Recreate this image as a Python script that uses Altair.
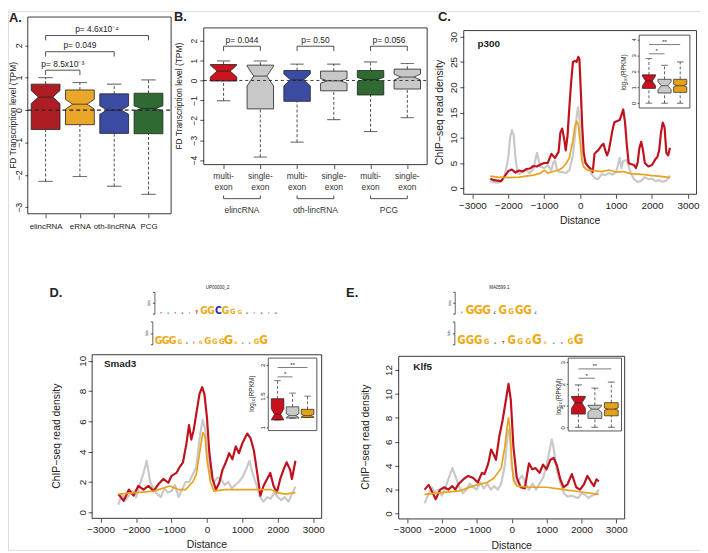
import altair as alt
import pandas as pd

W, H, OFF = 700, 545, 8
FONT = "Liberation Sans"
NARROW = "DejaVu Sans Condensed, Liberation Sans Narrow, Liberation Sans"
INK = "#222222"
GRAY = "#C8C8C8"

# ---------------- Panel A ----------------
A_categories = ["elincRNA", "eRNA", "oth-lincRNA", "PCG"]
A_whisker_hi = [1.0, 0.85, 0.8, 0.93]
A_q3 = [0.8, 0.62, 0.5, 0.52]
A_median = [0.4, 0.18, 0.0, 0.05]
A_q1 = [-0.6, -0.45, -0.72, -0.73]
A_whisker_lo = [-2.2, -2.05, -2.35, -2.6]
A_notch = [0.2, 0.15, 0.13, 0.08]
A_colors = ["#AD1E24", "#E9A628", "#3B4BA1", "#2E6A31"]
A_pairs = [[1, 2], [1, 3], [1, 4]]
A_bracket_y = [1.23, 1.8, 2.3]
A_pvalues = ["p= 8.5x10\u207b\u00b3", "p= 0.049", "p= 4.6x10\u207b\u2074"]
A_yticks = [-3, -2, -1, 0, 1, 2]

# ---------------- Panel B ----------------
B_tick_labels = ["multi-\nexon", "single-\nexon"] * 3
B_groups = ["elincRNA", "oth-lincRNA", "PCG"]
B_whisker_hi = [0.98, 0.98, 0.82, 0.82, 0.93, 0.85]
B_q3 = [0.8, 0.77, 0.5, 0.47, 0.5, 0.57]
B_median = [0.47, 0.22, 0.03, -0.02, 0.05, 0.17]
B_q1 = [-0.03, -1.43, -1.05, -0.52, -0.73, -0.43]
B_whisker_lo = [-1.02, -3.85, -3.1, -1.97, -2.57, -1.87]
B_notch = [0.3, 0.5, 0.3, 0.12, 0.1, 0.15]
B_colors = ["#C8141F", GRAY, "#3B4BA1", GRAY, "#2E6A31", GRAY]
B_pairs = [[1, 2], [3, 4], [5, 6]]
B_bracket_y = [1.72, 1.72, 1.72]
B_pvalues = ["p= 0.044", "p= 0.50", "p= 0.056"]
B_yticks = [-4, -3, -2, -1, 0, 1, 2]

# ---------------- Line panels ----------------
DIST_TICKS = [-3000, -2000, -1000, 0, 1000, 2000, 3000]
LINE_RED, LINE_GRAY, LINE_ORANGE = "#C0121E", "#C9C9C9", "#E8A31C"

C_red_dist = [-2500, -2400, -2300, -2200, -2100, -2000, -1900, -1800, -1700, -1600, -1500, -1400, -1300,
              -1200, -1100, -1000, -900, -800, -700, -600, -550, -500, -450, -400, -350, -300, -250, -200,
              -150, -100, -50, -20, 20, 60, 100, 150, 200, 300, 350, 400, 450, 500, 600, 650, 700, 750, 800,
              900, 950, 1000, 1100, 1150, 1200, 1250, 1300, 1350, 1400, 1500, 1550, 1600, 1650, 1700, 1750,
              1800, 1900, 2000, 2100, 2150, 2200, 2250, 2300, 2350, 2400, 2450, 2500]
C_red_val = [1.9, 1.6, 1.5, 1.4, 2.4, 3.4, 3.7, 3.1, 3.5, 3.3, 3.8, 3.9, 4.4,
             4.3, 4.7, 5.0, 5.0, 6.8, 6.0, 7.2, 11.0, 11.8, 10.0, 7.5, 10.5, 16.0, 21.0, 25.0,
             25.2, 25.0, 26.0, 25.5, 19.0, 12.0, 7.0, 5.0, 4.5, 3.8, 3.2, 6.8, 7.2, 7.5, 8.5, 8.8, 7.5, 6.5, 7.5,
             11.5, 13.0, 13.2, 13.5, 14.5, 15.6, 13.0, 8.5, 5.0, 4.8, 4.6, 4.0, 5.0, 8.0, 9.2, 7.5,
             5.0, 4.3, 4.6, 5.8, 6.2, 7.5, 11.0, 13.0, 12.0, 7.0, 6.5, 8.0]
C_gray_dist = [-2500, -2400, -2300, -2200, -2100, -2000, -1950, -1900, -1850, -1800, -1750, -1700, -1600,
               -1500, -1400, -1300, -1250, -1200, -1150, -1100, -1000, -900, -800, -750, -700, -650, -600,
               -500, -400, -300, -200, -150, -100, -60, -20, 20, 60, 100, 150, 200, 300, 400, 500, 600, 700,
               800, 900, 1000, 1050, 1100, 1150, 1200, 1300, 1400, 1500, 1600, 1700, 1800, 1900, 2000, 2100,
               2200, 2300, 2400, 2500]
C_gray_val = [1.4, 1.2, 1.1, 1.3, 2.5, 6.0, 10.0, 11.5, 10.5, 6.0, 3.5, 2.8, 3.4,
              3.6, 3.0, 3.8, 5.5, 7.0, 5.5, 4.2, 4.0, 4.6, 3.5, 5.0, 5.5, 3.8, 3.3,
              3.2, 3.0, 3.6, 6.5, 10.0, 14.0, 16.0, 14.0, 9.0, 5.5, 5.2, 5.0, 4.6, 3.0, 2.0, 1.8, 2.8, 2.6,
              3.0, 2.7, 3.2, 4.5, 6.0, 4.0, 5.4, 5.6, 3.2, 1.8, 1.2, 1.5, 2.2, 1.8, 1.9, 1.4,
              1.6, 1.3, 1.5, 2.5]
C_orange_dist = [-2500, -2300, -2000, -1700, -1500, -1300, -1100, -1000, -900, -800, -600, -500, -400,
                 -300, -200, -150, -100, -50, 0, 50, 100, 200, 400, 600, 800, 1000, 1200, 1400, 1600,
                 1800, 2000, 2200, 2400, 2500]
C_orange_val = [2.4, 2.2, 2.1, 2.2, 2.4, 2.6, 3.0, 3.6, 3.0, 3.2, 3.6, 4.0, 4.8,
                6.0, 9.5, 12.0, 13.3, 12.5, 9.0, 5.5, 4.2, 3.6, 3.5, 3.3, 3.6, 3.2, 3.3, 2.9, 2.8,
                2.7, 2.5, 2.4, 2.2, 2.1]

D_red_dist = [-2500, -2350, -2200, -2070, -1935, -1790, -1650, -1510, -1370, -1230, -1090, -1000, -860,
              -765, -675, -580, -505, -440, -375, -300, -210, -135, -70, 0, 70, 160, 255, 350, 440, 535,
              630, 720, 815, 905, 1000, 1140, 1230, 1325, 1420, 1510, 1600, 1700, 1790, 1880, 1975, 2070,
              2160, 2250, 2350, 2400, 2500]
D_red_val = [1.2, 0.76, 1.5, 1.1, 1.75, 1.5, 1.75, 1.4, 1.85, 2.2, 1.95, 2.4, 2.6,
             3.0, 3.3, 4.5, 5.75, 4.8, 5.4, 6.5, 7.8, 8.26, 7.8, 6.3, 3.9, 2.2, 1.5, 1.95, 2.8, 3.3,
             3.9, 3.5, 4.35, 3.9, 4.55, 5.2, 4.9, 4.1, 2.6, 1.1, 1.75, 2.2, 2.6, 1.75, 1.3, 2.2,
             2.8, 3.3, 2.8, 2.2, 3.4]
D_gray_dist = [-2500, -2400, -2300, -2100, -2000, -1900, -1800, -1700, -1600, -1500, -1400, -1300, -1200,
               -1100, -1000, -900, -800, -700, -600, -500, -400, -300, -200, -120, -50, 0, 100, 200, 300,
               400, 500, 600, 700, 800, 900, 1000, 1100, 1200, 1300, 1400, 1500, 1600, 1700, 1800, 1900,
               2000, 2100, 2200, 2300, 2400, 2500]
D_gray_val = [0.5, 1.2, 0.8, 1.4, 1.0, 1.8, 2.5, 3.4, 2.0, 1.5, 1.2, 1.0, 1.6,
              1.3, 1.4, 1.8, 1.0, 1.5, 2.0, 2.0, 2.5, 3.0, 5.0, 6.1, 5.5, 4.0, 2.5, 2.0, 2.3,
              2.2, 1.8, 2.0, 1.6, 1.8, 2.0, 2.3, 2.8, 3.4, 2.5, 1.8, 1.0, 0.7, 1.0, 0.9, 1.3,
              1.0, 0.8, 1.0, 0.7, 1.2, 1.7]
D_orange_dist = [-2500, -2000, -1500, -1050, -800, -600, -400, -300, -200, -115, -50, 0, 100, 200, 500,
                 1000, 1500, 1800, 2000, 2200, 2500]
D_orange_val = [1.2, 1.3, 1.4, 1.74, 1.5, 1.5, 2.0, 2.5, 4.0, 5.26, 5.0, 3.5, 2.0, 1.4, 1.5,
                1.5, 1.5, 1.5, 1.3, 1.2, 1.3]

E_red_dist = [-2500, -2380, -2270, -2180, -2050, -1930, -1820, -1700, -1620, -1530, -1390, -1250, -1110,
              -970, -855, -780, -670, -590, -525, -450, -355, -260, -165, -90, -25, 50, 145, 260, 375, 495,
              590, 685, 800, 900, 1000, 1110, 1205, 1300, 1395, 1490, 1600, 1725, 1850, 1960, 2075, 2170,
              2265, 2360, 2430, 2500]
E_red_val = [2.0, 2.4, 1.75, 1.2, 2.0, 2.2, 2.0, 2.3, 2.0, 2.45, 2.85, 3.15, 3.0,
             2.6, 3.4, 3.3, 4.2, 5.35, 5.0, 4.5, 6.45, 7.8, 9.5, 10.85, 9.5, 5.6, 3.0, 2.2, 2.1, 4.2,
             3.7, 3.8, 3.4, 4.1, 3.7, 4.5, 4.65, 4.0, 2.85, 2.2, 2.45, 3.3, 2.2, 2.0, 2.45, 3.15,
             2.7, 2.3, 2.85, 2.7]
E_gray_dist = [-2500, -2400, -2300, -2200, -2100, -2000, -1900, -1800, -1700, -1600, -1500, -1400, -1300,
               -1200, -1100, -1000, -900, -800, -700, -600, -500, -400, -300, -200, -100, -50, 0, 100, 200,
               300, 400, 500, 600, 700, 800, 900, 1000, 1100, 1150, 1200, 1300, 1400, 1500, 1600, 1700, 1800,
               1900, 2000, 2100, 2200, 2300, 2400, 2500]
E_gray_val = [0.85, 1.5, 2.2, 1.8, 2.0, 1.5, 2.2, 3.0, 3.8, 3.0, 2.2, 1.7, 2.0,
              2.5, 2.2, 2.0, 2.6, 2.1, 2.5, 2.0, 2.3, 2.0, 2.5, 4.0, 7.0, 6.5, 4.0, 2.5, 2.8,
              3.2, 2.5, 2.0, 2.5, 2.0, 2.5, 3.0, 4.0, 5.5, 6.2, 5.5, 3.5, 2.5, 1.7, 1.4, 1.5, 1.4,
              1.3, 1.7, 1.6, 1.3, 1.5, 1.6, 2.0]
E_orange_dist = [-2500, -2000, -1500, -1000, -700, -500, -300, -200, -120, -90, -50, 0, 50, 150, 500,
                 1000, 1500, 2000, 2500]
E_orange_val = [1.6, 1.75, 1.9, 2.4, 2.6, 3.0, 3.8, 5.5, 7.5, 8.0, 7.0, 4.5, 2.8, 2.3, 2.2,
                2.2, 2.0, 1.8, 1.6]

# ---------------- Inset boxplots ----------------
INSET_COLORS = ["#C8101E", GRAY, "#E3A21A"]
C_ins_hi = [2.8, 2.38, 2.59]
C_ins_q3 = [1.78, 1.5, 1.5]
C_ins_med = [1.4, 1.1, 1.1]
C_ins_q1 = [0.93, 0.64, 0.68]
C_ins_lo = [0.0, 0.0, 0.0]
C_ins_notch = [0.3, 0.25, 0.08]
C_ins_sig = [3.1, 3.68]
C_ins_ticks = [0, 1, 2, 3, 4]

D_ins_hi = [1.75, 1.55, 1.5]
D_ins_q3 = [1.46, 1.33, 1.29]
D_ins_med = [1.21, 1.19, 1.19]
D_ins_q1 = [1.12, 1.15, 1.16]
D_ins_lo = [1.12, 1.15, 1.16]
D_ins_notch = [0.09, 0.03, 0.02]
D_ins_sig = [1.81, 1.96]
D_ins_ticks = [1, 1.5, 2]

E_ins_hi = [1.96, 1.81, 2.09]
E_ins_q3 = [1.43, 1.02, 1.14]
E_ins_med = [1.13, 0.84, 0.84]
E_ins_q1 = [0.61, 0.41, 0.53]
E_ins_lo = [0.0, 0.0, 0.0]
E_ins_notch = [0.25, 0.15, 0.05]
E_ins_sig = [2.27, 2.7]
E_ins_ticks = [0, 1, 2, 3]

SIG_PAIRS = [[1, 2], [1, 3]]
SIG_TEXT = ["*", "**"]

# ---------------- Sequence logos ----------------
LOGO_LETTERS = ["A", "C", "G", "T"]
LOGO_COLORS = ["#2E9E3A", "#2A2AA8", "#EFAA14", "#D23A3A"]
D_logo1_letters = ["T", "A", "T", "A", "T", "T", "G", "G", "C", "G", "G", "G", "A", "T", "A", "T", "A"]
D_logo1_bits = [0.1, 0.08, 0.1, 0.1, 0.08, 0.45, 1.3, 1.3, 1.3, 1.3, 0.85, 0.6, 0.1, 0.08, 0.1, 0.08, 0.12]
D_logo2_letters = ["G", "G", "G", "G", "A", "T", "G", "G", "G", "G", "G", "G", "A", "C", "G", "G"]
D_logo2_bits = [1.6, 1.6, 1.6, 0.8, 0.12, 0.2, 0.5, 1.4, 1.0, 1.0, 2.0, 0.35, 0.1, 0.1, 1.0, 1.8]
E_logo1_letters = ["T", "G", "G", "G", "C", "G", "G", "G", "G", "C"]
E_logo1_bits = [0.15, 1.6, 1.6, 1.6, 0.25, 1.5, 0.9, 1.5, 1.5, 0.2]
E_logo2_letters = ["G", "G", "G", "G", "A", "T", "G", "G", "G", "G", "G", "A", "C", "G", "G"]
E_logo2_bits = [1.6, 1.6, 1.6, 0.9, 0.15, 0.35, 1.6, 1.0, 1.0, 1.9, 0.3, 0.1, 0.1, 1.0, 1.9]

# ---------------- layout (reference pixels) ----------------
P = {
    "A": dict(xd=[0.48, 4.66], xr=[28, 173], yd=[-3.2, 2.87], yr=[213, 14]),
    "B": dict(xd=[0.46, 6.54], xr=[206, 432], yd=[-4.23, 2.64], yr=[163.3, 25]),
    "C": dict(xd=[-3240, 3240], xr=[469, 704.5], yd=[-1.2, 31.2], yr=[193.3, 27.7]),
    "Ci": dict(xd=[0.38, 3.62], xr=[646.5, 697.8], yd=[-0.3, 4.27], yr=[106, 32.3]),
    "D": dict(xd=[-3240, 3240], xr=[93.1, 325.3], yd=[-0.4, 10.4], yr=[521.1, 355.6]),
    "Di": dict(xd=[0.38, 3.62], xr=[271.3, 320.4], yd=[0.95, 2.11], yr=[432.3, 359]),
    "E": dict(xd=[-3240, 3240], xr=[403.2, 631.8], yd=[-0.45, 13.15], yr=[521.7, 357.2]),
    "Ei": dict(xd=[0.38, 3.62], xr=[574.7, 628.6], yd=[-0.17, 3.2], yr=[432.7, 359]),
}


def sx(p):
    d = P[p]
    return alt.Scale(domain=d["xd"], range=[d["xr"][0] - OFF, d["xr"][1] - OFF], nice=False, zero=False)


def sy(p):
    d = P[p]
    return alt.Scale(domain=d["yd"], range=[d["yr"][0] - OFF, d["yr"][1] - OFF], nice=False, zero=False)


def X(f, p, axis=None):
    return alt.X(f, scale=sx(p), axis=axis)


def Y(f, p, axis=None):
    return alt.Y(f, scale=sy(p), axis=axis)


def yaxis(p, values, fs, tick=4, pad=1, at=None, **kw):
    left = (P[p]["xr"][0] if at is None else at) - OFF
    args = dict(orient="left", offset=-left, values=values, format="~f", tickSize=tick, tickWidth=0.8,
                tickColor=INK, labelAngle=270, labelAlign="center", labelBaseline="bottom",
                labelPadding=pad, labelFontSize=fs, labelColor=INK, labelFont=FONT, domain=False,
                grid=False, title=None, labelOverlap=False, labelFlush=False)
    args.update(kw)
    return alt.Axis(**args)


def xaxis(p, values, fs, tick=4, pad=2, **kw):
    bottom = P[p]["yr"][0] - OFF
    args = dict(orient="bottom", offset=bottom - H, values=values, format="~f", tickSize=tick,
                tickWidth=0.8, tickColor=INK, labelFontSize=fs, labelColor=INK, labelFont=FONT,
                labelPadding=pad, domain=False, grid=False, title=None, labelOverlap=False,
                labelFlush=False, labelAngle=0)
    args.update(kw)
    return alt.Axis(**args)


def frame(p, xax=None, yax=None, fill=None, stroke=INK, sw=0.9, show=True):
    d = P[p]
    df = pd.DataFrame({"x0": [d["xd"][0]], "x1": [d["xd"][1]], "y0": [d["yd"][0]], "y1": [d["yd"][1]]})
    mk = dict(stroke=stroke, strokeWidth=sw) if show else dict(strokeOpacity=0)
    if fill:
        mk["fill"] = fill
        mk["fillOpacity"] = 1
    else:
        mk["fillOpacity"] = 0
    return alt.Chart(df).mark_rect(**mk).encode(
        x=X("x0:Q", p, xax), x2="x1:Q", y=Y("y0:Q", p, yax), y2="y1:Q")


def boxes(p, hi, q3, med, q1, lo, notch, colors, hw=0.4, sw=0.8, mw=2.6):
    centers = list(range(1, len(med) + 1))
    ids = [f"{p}{i}" for i in range(len(med))]
    poly, segs = [], []
    for i, c in enumerate(centers):
        m = med[i]
        n = min(notch[i], m - q1[i], q3[i] - m)
        pts = [(q1[i], 0.0), (m - n, 0.0), (m, hw / 2), (m + n, 0.0), (q3[i], 0.0)]
        for k, (yv, ins) in enumerate(pts):
            poly.append(dict(box=ids[i], k=k, y=yv, xl=c - hw + ins, xr=c + hw - ins))
        segs += [dict(kind="w", x1=c, x2=c, y1=q3[i], y2=hi[i]),
                 dict(kind="w", x1=c, x2=c, y1=lo[i], y2=q1[i]),
                 dict(kind="s", x1=c - hw / 2, x2=c + hw / 2, y1=hi[i], y2=hi[i]),
                 dict(kind="s", x1=c - hw / 2, x2=c + hw / 2, y1=lo[i], y2=lo[i]),
                 dict(kind="m", x1=c - hw / 2, x2=c + hw / 2, y1=m, y2=m)]
    area = alt.Chart(pd.DataFrame(poly)).mark_area(orient="horizontal", stroke=INK, strokeWidth=sw,
                                                   fillOpacity=1).encode(
        y=Y("y:Q", p), x=X("xl:Q", p), x2="xr:Q",
        color=alt.Color("box:N", scale=alt.Scale(domain=ids, range=colors), legend=None))
    rules = alt.Chart(pd.DataFrame(segs)).mark_rule(color=INK).encode(
        x=X("x1:Q", p), x2="x2:Q", y=Y("y1:Q", p), y2="y2:Q",
        strokeDash=alt.StrokeDash("kind:N", scale=alt.Scale(domain=["w", "s", "m"],
                                                          range=[[3, 2], [1, 0], [1, 0]]), legend=None),
        strokeWidth=alt.StrokeWidth("kind:N", scale=alt.Scale(domain=["w", "s", "m"],
                                                            range=[sw, sw, mw]), legend=None))
    return [area, rules]


def brackets(p, pairs, ys, drop, texts, fs, dy=-1.5, sw=0.8):
    segs, labs = [], []
    for (a, b), yv, t in zip(pairs, ys, texts):
        segs.append(dict(x1=a, x2=b, y1=yv, y2=yv))
        if drop:
            segs.append(dict(x1=a, x2=a, y1=yv, y2=yv - drop))
            segs.append(dict(x1=b, x2=b, y1=yv, y2=yv - drop))
        labs.append(dict(x=(a + b) / 2, y=yv, t=t))
    r = alt.Chart(pd.DataFrame(segs)).mark_rule(color=INK, strokeWidth=sw).encode(
        x=X("x1:Q", p), x2="x2:Q", y=Y("y1:Q", p), y2="y2:Q")
    t = alt.Chart(pd.DataFrame(labs)).mark_text(fontSize=fs, baseline="bottom", dy=dy, color=INK,
                                                font=FONT).encode(
        x=X("x:Q", p), y=Y("y:Q", p), text="t:N")
    return [r, t]


def zero_line(p, width=1.1, dash=(4, 3)):
    df = pd.DataFrame({"x1": [P[p]["xd"][0]], "x2": [P[p]["xd"][1]], "y": [0.0]})
    return alt.Chart(df).mark_rule(color=INK, strokeWidth=width, strokeDash=list(dash)).encode(
        x=X("x1:Q", p), x2="x2:Q", y=Y("y:Q", p))


def series(p, d, v, color, width):
    df = pd.DataFrame({"d": d, "v": v})
    return alt.Chart(df).mark_line(color=color, strokeWidth=width, strokeJoin="round").encode(
        x=X("d:Q", p), y=Y("v:Q", p))


def label(text, x, y, size=9.5, angle=0, align="center", baseline="middle", weight="normal", color=INK):
    return alt.Chart(pd.DataFrame({"t": [text]})).mark_text(
        fontSize=size, angle=angle, align=align, baseline=baseline, fontWeight=weight, color=color,
        font=FONT).encode(text="t:N", x=alt.value(x - OFF), y=alt.value(y - OFF))


def logo(name, letters, bits, xr, yr, top=15):
    P[name] = dict(xd=[-0.5, len(letters) - 0.5], xr=xr, yd=[0, 2], yr=yr)
    df = pd.DataFrame({"slot": list(range(len(letters))), "letter": letters, "bits": bits,
                       "base": [0] * len(letters)})
    txt = alt.Chart(df).mark_text(font=NARROW, fontWeight="bold", baseline="alphabetic").encode(
        x=X("slot:Q", name), y=Y("base:Q", name), text="letter:N",
        color=alt.Color("letter:N", scale=alt.Scale(domain=LOGO_LETTERS, range=LOGO_COLORS), legend=None),
        size=alt.Size("bits:Q", scale=alt.Scale(domain=[0, 2], range=[2, top]), legend=None))
    ax = frame(name, yax=yaxis(name, [0, 1, 2], 4, tick=2, at=xr[0] - 3, labels=False, domain=True,
                               domainColor=INK, domainWidth=0.7), show=False)
    bits_lbl = label("bits", xr[0] - 8, (yr[0] + yr[1]) / 2, size=3.5, angle=270)
    return [ax, txt, bits_lbl]


layers = []

# ---- Panel A ----
layers.append(frame("A",
                    xax=xaxis("A", [1, 2, 3, 4], 8, pad=5,
                              labelExpr=f"{A_categories}[datum.value - 1]"),
                    yax=yaxis("A", A_yticks, 9, tick=3, pad=1)))
layers += boxes("A", A_whisker_hi, A_q3, A_median, A_q1, A_whisker_lo, A_notch, A_colors, hw=0.42)
layers.append(zero_line("A", 1.3, (4, 3)))
layers += brackets("A", A_pairs, A_bracket_y, 0.15, A_pvalues, 8.5)
layers.append(label("FD Transcription level (TPM)", 13, 113.5, size=8.5, angle=270))
layers.append(label("A.", 9, 19, size=13, align="left", baseline="alphabetic", weight="bold"))

# ---- Panel B ----
layers.append(frame("B", xax=xaxis("B", [1, 2, 3, 4, 5, 6], 8.5, labels=False),
                    yax=yaxis("B", B_yticks, 8.5, tick=4, pad=1)))
layers += boxes("B", B_whisker_hi, B_q3, B_median, B_q1, B_whisker_lo, B_notch, B_colors, hw=0.36)
layers.append(zero_line("B", 0.9, (3, 3)))
layers += brackets("B", B_pairs, B_bracket_y, 0.24, B_pvalues, 8.5)
b_ticks = pd.DataFrame({"pos": list(range(1, 7)), "t": B_tick_labels})
layers.append(alt.Chart(b_ticks).mark_text(fontSize=8.5, lineBreak="\n", lineHeight=10.5, baseline="top",
                                           color="#333333", font=FONT).encode(
    x=X("pos:Q", "B"), y=alt.value(171 - OFF), text="t:N"))
grp = pd.DataFrame({"a": [p[0] for p in B_pairs], "b": [p[1] for p in B_pairs], "g": B_groups,
                    "mid": [(p[0] + p[1]) / 2 for p in B_pairs]})
layers.append(alt.Chart(grp).mark_rule(color=INK, strokeWidth=0.8).encode(
    x=X("a:Q", "B"), x2="b:Q", y=alt.value(197.7 - OFF)))
grp_ends = pd.DataFrame({"e": [p[0] for p in B_pairs] + [p[1] for p in B_pairs]})
layers.append(alt.Chart(grp_ends).mark_rule(color=INK, strokeWidth=0.8).encode(
    x=X("e:Q", "B"), y=alt.value(194.5 - OFF), y2=alt.value(197.7 - OFF)))
layers.append(alt.Chart(grp).mark_text(fontSize=8.5, color="#333333", font=FONT).encode(
    x=X("mid:Q", "B"), y=alt.value(209.5 - OFF), text="g:N"))
layers.append(label("FD Transcription level (TPM)", 181, 94, size=8.5, angle=270))
layers.append(label("B.", 176, 18, size=13, align="left", baseline="alphabetic", weight="bold"))


def line_panel(p, red, gray, orange, title, tx, ty, ins, ins_data, ins_ticks, sig, yt, ytitle_x,
               yticks, letter, lx, ly, lab_x, lab_y):
    out = [frame(p, xax=xaxis(p, DIST_TICKS, 10, pad=2),
                 yax=yaxis(p, yticks, 10, tick=4, pad=1))]
    out.append(series(p, gray[0], gray[1], LINE_GRAY, 2.2))
    out.append(series(p, red[0], red[1], LINE_RED, 2.2))
    out.append(series(p, orange[0], orange[1], LINE_ORANGE, 1.7))
    out.append(frame(ins, yax=yaxis(ins, ins_ticks, 6, tick=2, pad=1), fill="white", stroke="#444444",
                     sw=0.9))
    out += boxes(ins, *ins_data, INSET_COLORS, hw=0.42, sw=0.7, mw=1.8)
    out += brackets(ins, SIG_PAIRS, sig, 0, SIG_TEXT, 6, dy=0.5, sw=0.6)
    out.append(label("log\u2081\u2080(RPKM)", lab_x, lab_y, size=6.5, angle=270))
    out.append(label(title, tx, ty, size=10, align="left", weight="bold"))
    out.append(label("ChIP\u2212seq read density", ytitle_x, yt, size=10.5, angle=270))
    xmid = (P[p]["xr"][0] + P[p]["xr"][1]) / 2
    out.append(label("Distance", xmid, P[p]["yr"][0] + 27, size=10.5))
    out.append(label(letter, lx, ly, size=13, align="left", baseline="alphabetic", weight="bold"))
    return out


layers += line_panel("C", (C_red_dist, C_red_val), (C_gray_dist, C_gray_val),
                     (C_orange_dist, C_orange_val), "p300", 483, 41, "Ci",
                     (C_ins_hi, C_ins_q3, C_ins_med, C_ins_q1, C_ins_lo, C_ins_notch), C_ins_ticks,
                     C_ins_sig, 110.5, 445, [0, 5, 10, 15, 20, 25, 30], "C.", 443, 18, 631, 70)
layers += line_panel("D", (D_red_dist, D_red_val), (D_gray_dist, D_gray_val),
                     (D_orange_dist, D_orange_val), "Smad3", 105, 365, "Di",
                     (D_ins_hi, D_ins_q3, D_ins_med, D_ins_q1, D_ins_lo, D_ins_notch), D_ins_ticks,
                     D_ins_sig, 438, 58, [0, 2, 4, 6, 8, 10], "D.", 50, 297, 255, 395)
layers += line_panel("E", (E_red_dist, E_red_val), (E_gray_dist, E_gray_val),
                     (E_orange_dist, E_orange_val), "Klf5", 418, 368, "Ei",
                     (E_ins_hi, E_ins_q3, E_ins_med, E_ins_q1, E_ins_lo, E_ins_notch), E_ins_ticks,
                     E_ins_sig, 439, 370, [0, 2, 4, 6, 8, 10, 12], "E.", 350, 297, 565, 398)

# ---- sequence logos ----
layers += logo("LD1", D_logo1_letters, D_logo1_bits, [159.1, 282.4], [314, 292])
layers += logo("LD2", D_logo2_letters, D_logo2_bits, [157, 270], [345, 322], top=13)
layers += logo("LE1", E_logo1_letters, E_logo1_bits, [462.9, 545.9], [314, 292])
layers += logo("LE2", E_logo2_letters, E_logo2_bits, [462.5, 589.5], [345, 322], top=14)
layers.append(label("UP00000_2", 220, 288, size=4.5))
layers.append(label("MA0599.1", 505, 288, size=4.5))

chart = alt.layer(*layers).resolve_scale(
    x="independent", y="independent", color="independent", size="independent",
    strokeDash="independent", strokeWidth="independent"
).properties(width=W, height=H, padding=0, autosize="none").configure_view(stroke=None).configure(font=FONT)

chart.save("out.html", embed_options={"renderer": "svg", "actions": False})
